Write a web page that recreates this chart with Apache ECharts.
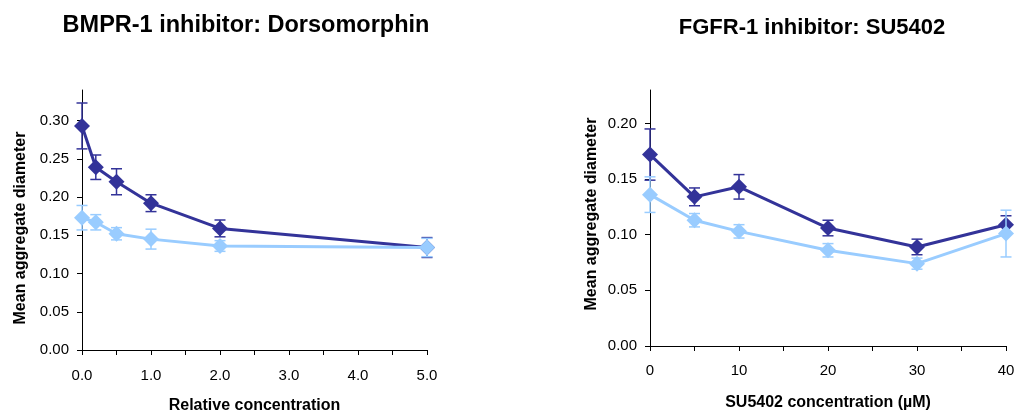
<!DOCTYPE html>
<html>
<head>
<meta charset="utf-8">
<script src="https://cdn.jsdelivr.net/npm/echarts@6/dist/echarts.min.js"></script>
<style>html,body{margin:0;padding:0;background:#fff}#c{width:1016px;height:410px}</style>
</head>
<body>
<div id="c"></div>
<script>
// ---- Data ----
var titleLeft = 'BMPR-1 inhibitor: Dorsomorphin';
var titleRight = 'FGFR-1 inhibitor: SU5402';
var yName = 'Mean aggregate diameter';
var xNameLeft = 'Relative concentration';
var xNameRight = 'SU5402 concentration (µM)';

var xLeft = [0, 0.2, 0.5, 1.0, 2.0, 5.0];
var darkLeft = [0.293, 0.239, 0.220, 0.192, 0.159, 0.134];
var darkLeftErr = [0.030, 0.016, 0.017, 0.011, 0.011, 0.013];
var lightLeft = [0.173, 0.167, 0.152, 0.145, 0.136, 0.134];
var lightLeftErr = [0.016, 0.010, 0.008, 0.013, 0.007, 0.012];

var xRight = [0, 5, 10, 20, 30, 40];
var darkRight = [0.172, 0.134, 0.143, 0.106, 0.089, 0.109];
var darkRightErr = [0.023, 0.008, 0.011, 0.007, 0.007, 0.008];
var lightRight = [0.136, 0.113, 0.103, 0.086, 0.074, 0.101];
var lightRightErr = [0.016, 0.006, 0.006, 0.006, 0.005, 0.021];

var yTicksLeft = [0, 0.05, 0.10, 0.15, 0.20, 0.25, 0.30];
var yTicksRight = [0, 0.05, 0.10, 0.15, 0.20];

// ---- Build ----
var DARK = '#333399', LIGHT = '#99CCFF';
var FONT = 'Liberation Sans, Arial';
function pts(xs, ys) { return xs.map(function (x, i) { return [x, ys[i]]; }); }
function errs(xs, ys, es) { return xs.map(function (x, i) { return [x, ys[i] - es[i], ys[i] + es[i]]; }); }

function errSeries(xi, data, color, z) {
  return {
    type: 'custom', xAxisIndex: xi, yAxisIndex: xi, clip: false, z: z, silent: true,
    encode: { x: 0, y: [1, 2] },
    data: data,
    renderItem: function (params, api) {
      var x = api.value(0), lo = api.value(1), hi = api.value(2);
      var a = api.coord([x, hi]), b = api.coord([x, lo]);
      var hw = 5.5, st = { stroke: color, lineWidth: 1.5 };
      return { type: 'group', children: [
        { type: 'line', shape: { x1: a[0], y1: a[1], x2: b[0], y2: b[1] }, style: st },
        { type: 'line', shape: { x1: a[0] - hw, y1: a[1], x2: a[0] + hw, y2: a[1] }, style: st },
        { type: 'line', shape: { x1: b[0] - hw, y1: b[1], x2: b[0] + hw, y2: b[1] }, style: st }
      ] };
    }
  };
}
function lineSeries(xi, data, color, z) {
  return {
    type: 'line', xAxisIndex: xi, yAxisIndex: xi, data: data, clip: false, z: z,
    symbol: 'diamond', symbolSize: 16, showAllSymbol: true,
    lineStyle: { color: color, width: 3 }, itemStyle: { color: color },
    emphasis: { disabled: true }, animation: false
  };
}

function merge(a, b) { var o = {}; for (var k in a) o[k] = a[k]; for (var k2 in b) o[k2] = b[k2]; return o; }
var axisCommon = {
  axisLine: { show: true, lineStyle: { color: '#000', width: 1 } },
  axisTick: { show: true, length: 5, lineStyle: { color: '#000' } },
  splitLine: { show: false }
};
var nameStyle = { fontFamily: FONT, fontWeight: 'bold', fontSize: 16, color: '#000' };
var labelStyle = { fontFamily: FONT, fontSize: 15, color: '#000' };

var option = {
  animation: false,
  backgroundColor: '#fff',
  graphic: [
    { type: 'text', x: 246, y: 26, style: { text: titleLeft, fontFamily: FONT, fontWeight: 'bold', fontSize: 23.5, fill: '#000', textAlign: 'center', textVerticalAlign: 'middle' } },
    { type: 'text', x: 812, y: 28, style: { text: titleRight, fontFamily: FONT, fontWeight: 'bold', fontSize: 22, fill: '#000', textAlign: 'center', textVerticalAlign: 'middle' } }
  ],
  grid: [
    { left: 82, right: 589, top: 90, bottom: 60, outerBoundsMode: 'none', containLabel: false },
    { left: 650, right: 10, top: 90, bottom: 64, outerBoundsMode: 'none', containLabel: false }
  ],
  xAxis: [
    merge(axisCommon, { type: 'value', gridIndex: 0, min: 0, max: 5, interval: 1,
      name: xNameLeft, nameLocation: 'middle', nameGap: 48, nameTextStyle: nameStyle,
      minorTick: { show: true, splitNumber: 2, length: 5, lineStyle: { color: '#000' } },
      axisLabel: merge(labelStyle, { margin: 18, formatter: function (v) { return v.toFixed(1); } }) }),
    merge(axisCommon, { type: 'value', gridIndex: 1, min: 0, max: 40, interval: 10,
      name: xNameRight, nameLocation: 'middle', nameGap: 49, nameTextStyle: nameStyle,
      minorTick: { show: true, splitNumber: 2, length: 5, lineStyle: { color: '#000' } },
      axisLabel: merge(labelStyle, { margin: 17 }) })
  ],
  yAxis: [
    merge(axisCommon, { type: 'value', gridIndex: 0, min: 0, max: 0.34, interval: 0.05,
      name: yName, nameLocation: 'middle', nameGap: 53,
      nameTextStyle: merge(nameStyle, { padding: [0, 16, 0, 0] }),
      axisTick: { show: true, length: 5, lineStyle: { color: '#000' }, customValues: yTicksLeft },
      axisLabel: merge(labelStyle, { margin: 13, customValues: yTicksLeft, formatter: function (v) { return v.toFixed(2); } }) }),
    merge(axisCommon, { type: 'value', gridIndex: 1, min: 0, max: 0.23, interval: 0.05,
      name: yName, nameLocation: 'middle', nameGap: 50,
      nameTextStyle: merge(nameStyle, { padding: [0, 0, 0, 8] }),
      axisTick: { show: true, length: 5, lineStyle: { color: '#000' }, customValues: yTicksRight },
      axisLabel: merge(labelStyle, { margin: 13, customValues: yTicksRight, formatter: function (v) { return v.toFixed(2); } }) })
  ],
  series: [
    errSeries(0, errs(xLeft, darkLeft, darkLeftErr), DARK, 2),
    lineSeries(0, pts(xLeft, darkLeft), DARK, 3),
    errSeries(0, errs(xLeft, lightLeft, lightLeftErr), LIGHT, 4),
    lineSeries(0, pts(xLeft, lightLeft), LIGHT, 5),
    errSeries(1, errs(xRight, darkRight, darkRightErr), DARK, 2),
    lineSeries(1, pts(xRight, darkRight), DARK, 3),
    errSeries(1, errs(xRight, lightRight, lightRightErr), LIGHT, 4),
    lineSeries(1, pts(xRight, lightRight), LIGHT, 5)
  ]
};
var chart = echarts.init(document.getElementById('c'), null, { renderer: 'canvas' });
chart.setOption(option);
</script>
</body>
</html>
